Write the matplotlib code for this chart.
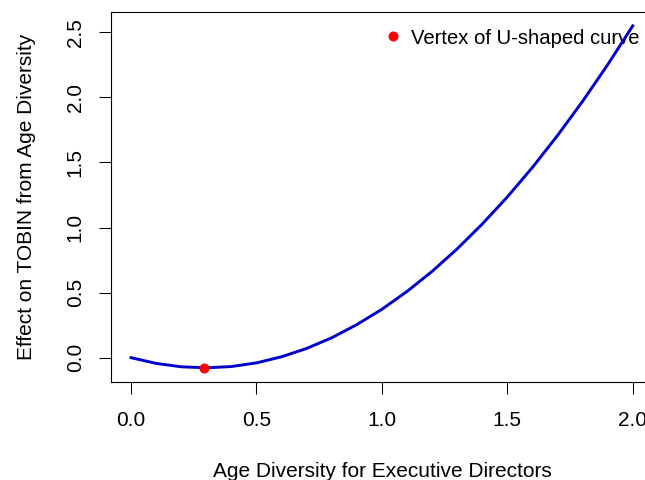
import numpy as np
import matplotlib
matplotlib.use("Agg")
import matplotlib.pyplot as plt

plt.rcParams['font.family'] = ['Liberation Sans', 'DejaVu Sans']

# values
age_div = [0.0, 0.1, 0.2, 0.3, 0.4, 0.5, 0.6, 0.7, 0.8, 0.9, 1.0,
           1.1, 1.2, 1.3, 1.4, 1.5, 1.6, 1.7, 1.8, 1.9, 2.0]
effect = [0.0, -0.044, -0.070, -0.078, -0.068, -0.040, 0.007, 0.071, 0.153, 0.254, 0.372,
          0.509, 0.663, 0.836, 1.027, 1.235, 1.462, 1.707, 1.970, 2.251, 2.550]
vertex_x = [0.29]
vertex_y = [-0.078]
xticks = [0.0, 0.5, 1.0, 1.5, 2.0]
yticks = [0.0, 0.5, 1.0, 1.5, 2.0, 2.5]

fig = plt.figure(figsize=(6.45, 4.8), dpi=100)
ax = fig.add_axes([111/645, 1 - 381.5/480, 541.8/645, 369.2/480])

ax.plot(age_div, effect, color='#0000CD', lw=2.1, zorder=6)
ax.plot(vertex_x, vertex_y, 'o', color='red', ms=6.2, zorder=7,
        label='Vertex of U-shaped curve')

ax.set_xlim(-0.08, 2.08)
ax.set_ylim(-0.183, 2.654)
ax.set_xticks(xticks)
ax.set_yticks(yticks)
ax.set_xticklabels(['%.1f' % v for v in xticks])
ax.set_yticklabels(['%.1f' % v for v in yticks])
plt.setp(ax.get_yticklabels(), rotation=90, va='center')

ax.tick_params(axis='x', length=8.3, width=0.75, pad=13.3, labelsize=15)
ax.tick_params(axis='y', length=8.6, width=0.75, pad=10.3, labelsize=15)
for s in ax.spines.values():
    s.set_linewidth(0.8)
    s.set_color('black')

fig.text(381.9/645, 3/480, 'Age Diversity for Executive Directors',
         ha='center', va='baseline', fontsize=15)
fig.text(26.5/645, 1 - 196.9/480, 'Effect on TOBIN from Age Diversity',
         ha='center', va='center', rotation=90, fontsize=15)

leg = ax.legend(loc='upper left', bbox_to_anchor=(384.7/645, 1 - 28.5/480),
                bbox_transform=fig.transFigure, frameon=False, fontsize=14.6,
                handlelength=0.82, handletextpad=0.5, borderpad=0,
                borderaxespad=0, numpoints=1)
leg.set_zorder(5)

fig.savefig('out.png', dpi=100)
